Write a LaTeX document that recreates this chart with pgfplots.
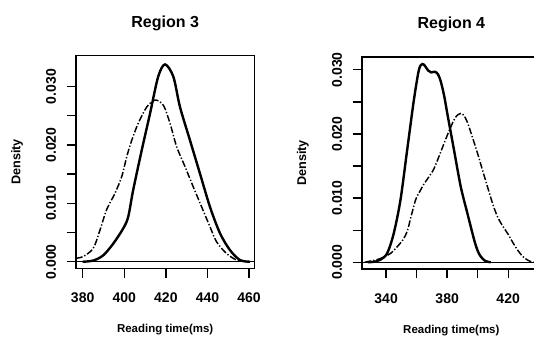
\documentclass[border=0pt]{standalone}
\usepackage{pgfplots}
\pgfplotsset{compat=1.18}
\usepackage{fontspec}
\setmainfont{Liberation Sans}
\begin{document}
\begin{tikzpicture}
\path[use as bounding box] (0,0) rectangle (400.5pt,255.75pt);
\pgfplotsset{
  rstyle/.style={
    scale only axis,
    scaled y ticks=false,
    axis line style={line width=1.1pt},
    every tick/.style={line width=1pt, black},
    tick align=outside,
    major tick length=7pt,
    xtick pos=bottom, ytick pos=left,
    /pgf/number format/assume math mode=true,
    every tick label/.append style={font=\fontsize{10.5}{12}\selectfont\bfseries},
    yticklabel style={rotate=90, anchor=south},
    xticklabel style={anchor=north},
    xticklabel shift=8pt,
    yticklabel shift=4.5pt,
    ylabel={Density},
    xlabel={Reading time(ms)},
    ylabel style={at={(axis description cs:-0.331,0.5)}, anchor=center, font=\fontsize{9.5}{11}\selectfont\bfseries},
    xlabel style={at={(axis description cs:0.5,-0.29)}, anchor=center, font=\fontsize{8.6}{11}\selectfont\bfseries},
    title style={at={(axis description cs:0.5,1)}, anchor=center, yshift=18.5pt, font=\fontsize{12}{14}\selectfont\bfseries},
    ytick={0,0.005,0.01,0.015,0.02,0.025,0.03},
    yticklabels={0.000,,0.010,,0.020,,0.030},
    solidc/.style={black, line width=1.8pt, smooth},
    dashc/.style={black, line width=1.1pt, smooth, dash pattern=on 5pt off 1.5pt on 1pt off 1.5pt},
  }
}
\begin{axis}[rstyle, at={(57pt,54.5pt)}, anchor=south west, width=133.7pt, height=159.5pt,
  xmin=376.8, xmax=462.5, ymin=-0.00113, ymax=0.0353,
  xtick={380,400,420,440,460}, title={Region 3}]
\addplot[black, line width=1.1pt] coordinates {(376.8,0) (462.5,0)};
\addplot[solidc] coordinates {
(380,0) (385.1,0.0002) (389.9,0.0011) (394.7,0.0031) (399.5,0.0057) (401.9,0.0077)
(404.3,0.0123) (408.4,0.0191) (412.4,0.0254) (416.3,0.0317) (419.6,0.0338)
(423.6,0.0317) (426.8,0.0265) (431.6,0.0208) (436.4,0.0151) (441.2,0.0094)
(446,0.0049) (450.8,0.0020) (455.6,0.0003) (460.4,0)};
\addplot[dashc] coordinates {
(376.8,0.0006) (380.3,0.0009) (385.1,0.0023) (388.3,0.0054) (391.5,0.0089)
(395.5,0.0117) (398.8,0.0146) (401.2,0.0180) (403.6,0.0208) (406.7,0.0237)
(410.8,0.0265) (414.8,0.0277) (418.8,0.0268) (422,0.0237) (425.2,0.0197)
(429.2,0.0163) (433.2,0.0128) (437.2,0.0094) (441.2,0.0060) (444.4,0.0034)
(449.2,0.0014) (454,0.0003) (459,0)};
\end{axis}
\begin{axis}[rstyle, at={(271.5pt,54pt)}, anchor=south west, width=134pt, height=159pt,
  xmin=324.2, xmax=441.3, ymin=-0.00105, ymax=0.0320,
  xtick={340,360,380,400,420}, xticklabels={340,,380,,420}, title={Region 4}]
\addplot[black, line width=1.1pt] coordinates {(324.2,0) (441.3,0)};
\addplot[solidc] coordinates {
(328,0) (333,0.0001) (336.3,0.0004) (340.7,0.0014) (345,0.0045) (349.4,0.0097)
(353.8,0.0175) (358.2,0.0253) (361.5,0.0300) (363.7,0.0309) (365.5,0.0306)
(367.5,0.0299) (369.5,0.0296) (372,0.0297) (374,0.0293) (375.8,0.0282)
(378,0.0260) (380.1,0.0232) (384.5,0.0175) (388.9,0.0118) (393.3,0.0076)
(397.7,0.0035) (400,0.0018) (402,0.0009) (405,0.0002) (408.6,0)};
\addplot[dashc] coordinates {
(326,0) (330,0.0002) (334,0.0004) (338.5,0.0008) (343,0.0014) (347.2,0.0024)
(351,0.0035) (353.8,0.0048) (356,0.0068) (359.3,0.0097) (362,0.0110)
(364.8,0.0122) (368,0.0133) (371.4,0.0146) (375.8,0.0172) (380.1,0.0198)
(384.5,0.0222) (387,0.0230) (388.9,0.0232) (391,0.0229) (393.3,0.0218)
(396,0.0199) (399.9,0.0170) (403,0.0145) (406.4,0.0118) (410,0.0090)
(413,0.0071) (416,0.0058) (419.6,0.0045) (423,0.0031) (426.2,0.0019)
(430,0.0008) (435,0.0001) (441.3,0)};
\end{axis}
\end{tikzpicture}
\end{document}
